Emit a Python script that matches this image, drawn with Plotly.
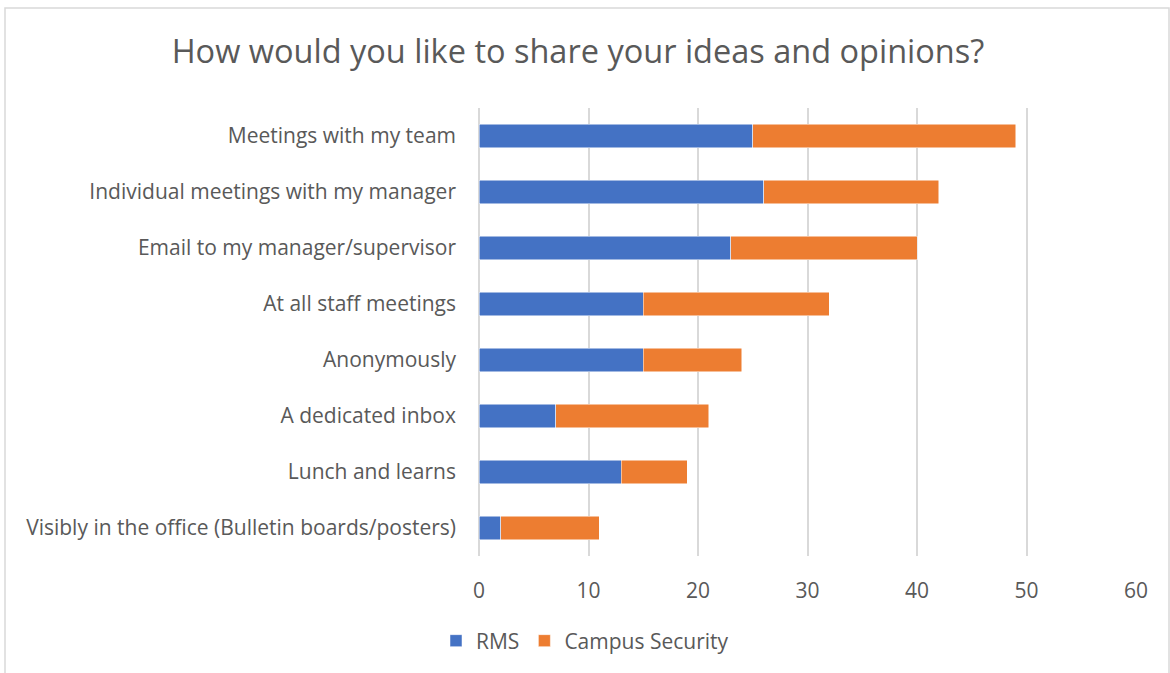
import plotly.graph_objects as go

categories = [
    "Meetings with my team",
    "Individual meetings with my manager",
    "Email to my manager/supervisor",
    "At all staff meetings",
    "Anonymously",
    "A dedicated inbox",
    "Lunch and learns",
    "Visibly in the office (Bulletin boards/posters)",
]
rms = [25, 26, 23, 15, 15, 7, 13, 2]
campus_security = [24, 16, 17, 17, 9, 14, 6, 9]
x_ticks = [0, 10, 20, 30, 40, 50, 60]

FONT = "Open Sans, sans-serif"
TXT = "#595959"
FS = 21

fig = go.Figure()
fig.add_trace(go.Bar(y=categories, x=rms, name="RMS", orientation="h",
                     marker=dict(color="#4472C4", line=dict(color="white", width=0.5)),
                     width=0.42))
fig.add_trace(go.Bar(y=categories, x=campus_security, name="Campus Security", orientation="h",
                     marker=dict(color="#ED7D31", line=dict(color="white", width=0.5)),
                     width=0.42))

W, H = 1170, 673
L, R, T, B = 479, 34, 108, 117
pw, ph = W - L - R, H - T - B

fig.update_layout(
    width=W, height=H,
    barmode="stack",
    paper_bgcolor="white", plot_bgcolor="white",
    margin=dict(l=L, r=R, t=T, b=B, pad=0),
    font=dict(family=FONT, color=TXT, size=FS),
    title=dict(text="How would you like to share your ideas and opinions?",
               x=578 / W, xanchor="center", y=1 - 52 / H, yanchor="middle",
               font=dict(size=32.5, color=TXT, family=FONT)),
    xaxis=dict(range=[0, 60], tickvals=x_ticks, showgrid=True, gridcolor="#d9d9d9",
               gridwidth=1.5, zeroline=True, zerolinecolor="#d9d9d9", zerolinewidth=1.5,
               showline=False, ticks="", ticklabelstandoff=20,
               tickfont=dict(size=FS, color=TXT)),
    yaxis=dict(autorange="reversed", showgrid=False, showline=False, ticks="",
               ticklabelstandoff=22, tickfont=dict(size=FS, color=TXT)),
    legend=dict(orientation="h", x=(585 - L) / pw, xanchor="center",
                y=-(641 - (T + ph)) / ph, yanchor="middle",
                font=dict(size=FS, color=TXT), traceorder="normal",
                itemwidth=30),
    showlegend=True,
)

fig.add_shape(type="rect", xref="paper", yref="paper",
              x0=(5 - L) / pw, x1=(1169 - L) / pw,
              y0=(T + ph - 690) / ph, y1=(T + ph - 8) / ph,
              line=dict(color="#d9d9d9", width=1.5), fillcolor="rgba(0,0,0,0)", layer="below")

fig.write_html("out.html")
